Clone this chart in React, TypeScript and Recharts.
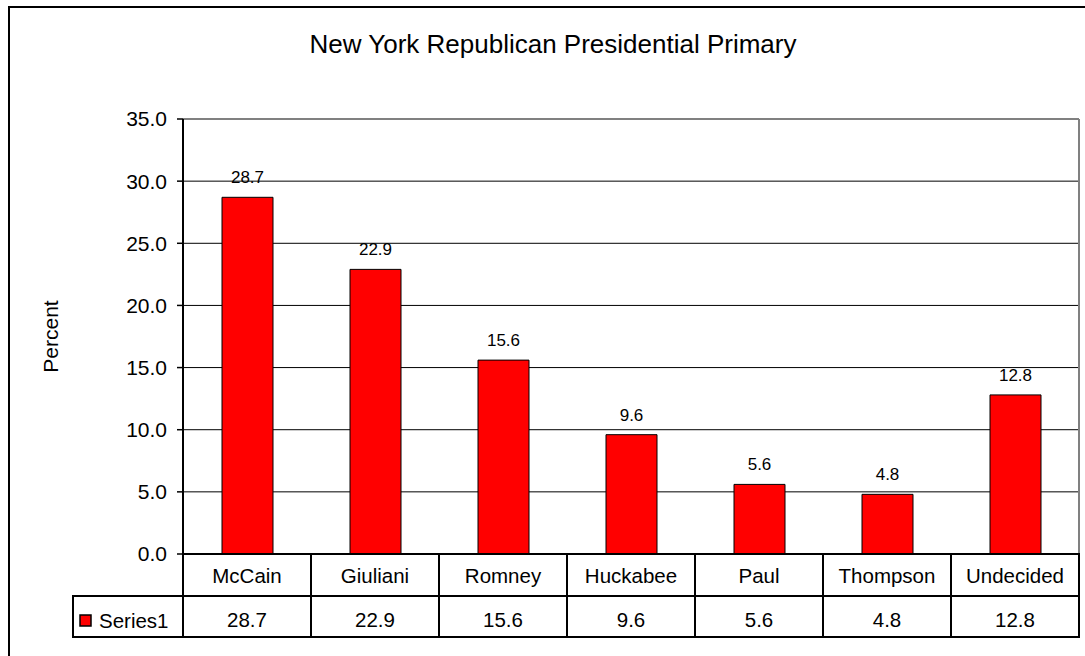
import React from "react"
import { BarChart, Bar, XAxis, YAxis, CartesianGrid, LabelList } from "recharts"

const candidates = ["McCain", "Giuliani", "Romney", "Huckabee", "Paul", "Thompson", "Undecided"]
const percents = [28.7, 22.9, 15.6, 9.6, 5.6, 4.8, 12.8]
const yTicks = [0, 5, 10, 15, 20, 25, 30, 35]
const seriesName = "Series1"
const title = "New York Republican Presidential Primary"
const yLabel = "Percent"

const data = candidates.map((name, i) => ({ name, value: percents[i] }))

const W = 1085
const H = 656
const MARGIN = { top: 119, right: 6, bottom: 19, left: 0 }
const Y_AXIS_W = 183
const X_AXIS_H = 83
const BAND = (W - MARGIN.left - MARGIN.right - Y_AXIS_W) / candidates.length
const ROW = 42
const LEGEND_LEFT = 73
const FONT = "Arial, 'Liberation Sans', Helvetica, sans-serif"

const cell = { stroke: "#000", strokeWidth: 2, strokeLinecap: "square" as const }

// the data table under the plot is drawn from the x axis ticks
function TableTick(props: any) {
  const { x, y, payload } = props
  const half = BAND / 2
  const left = x - half
  const right = x + half
  const idx = candidates.indexOf(payload.value)
  const value = percents[idx]
  return (
    <g>
      <line x1={right} y1={y} x2={right} y2={y + X_AXIS_H} {...cell} />
      <line x1={left} y1={y + ROW} x2={right} y2={y + ROW} {...cell} />
      <line x1={left} y1={y + X_AXIS_H} x2={right} y2={y + X_AXIS_H} {...cell} />
      <text x={x} y={y + 29} textAnchor="middle" fontSize={20.5} fill="#000" fontFamily={FONT}>
        {payload.value}
      </text>
      <text x={x} y={y + 73} textAnchor="middle" fontSize={20.5} fill="#000" fontFamily={FONT}>
        {value.toFixed(1)}
      </text>
      {idx === 0 && (
        <g>
          <line x1={left} y1={y} x2={left} y2={y + X_AXIS_H} {...cell} />
          <line x1={LEGEND_LEFT} y1={y + ROW} x2={left} y2={y + ROW} {...cell} />
          <line x1={LEGEND_LEFT} y1={y + X_AXIS_H} x2={left} y2={y + X_AXIS_H} {...cell} />
          <line x1={LEGEND_LEFT} y1={y + ROW} x2={LEGEND_LEFT} y2={y + X_AXIS_H} {...cell} />
          <rect x={LEGEND_LEFT + 7} y={y + 61} width={11} height={11} fill="#FF0000" stroke="#000" strokeWidth={1.5} />
          <text x={LEGEND_LEFT + 26} y={y + 74} fontSize={20.5} fill="#000" fontFamily={FONT}>
            {seriesName}
          </text>
        </g>
      )}
    </g>
  )
}

function AxisTitle(props: any) {
  const vb = props.viewBox || { x: 0, y: MARGIN.top, width: Y_AXIS_W, height: 435 }
  const cx = vb.x + 50
  const cy = vb.y + vb.height / 2
  return (
    <text
      x={cx}
      y={cy}
      transform={`rotate(-90 ${cx} ${cy})`}
      textAnchor="middle"
      dominantBaseline="central"
      fontSize={21}
      fill="#000"
      fontFamily={FONT}
    >
      {yLabel}
    </text>
  )
}

export default function App() {
  return (
    <div style={{ position: "absolute", left: 0, top: 0, width: W, height: H, background: "#fff", fontFamily: FONT }}>
      <div
        style={{
          position: "absolute",
          left: 8,
          top: 6,
          width: W - 8,
          height: H - 6,
          borderLeft: "2px solid #000",
          borderTop: "2px solid #000",
          boxSizing: "border-box",
        }}
      />
      <div
        style={{
          position: "absolute",
          left: 0,
          top: 32,
          width: 1106,
          textAlign: "center",
          fontSize: 26,
          lineHeight: "25px",
          color: "#000",
          whiteSpace: "nowrap",
        }}
      >
        {title}
      </div>
      <div style={{ position: "absolute", left: 0, top: 0 }}>
        <BarChart width={W} height={H} data={data} margin={MARGIN} style={{ fontFamily: FONT }}>
          <CartesianGrid vertical={false} stroke="#000" strokeWidth={1} />
          <CartesianGrid
            stroke="#808080"
            strokeWidth={2}
            horizontalCoordinatesGenerator={({ offset }: any) => [offset.top]}
            verticalCoordinatesGenerator={({ offset }: any) => [offset.left + offset.width]}
          />
          <XAxis
            dataKey="name"
            height={X_AXIS_H}
            interval={0}
            tickLine={false}
            tickSize={0}
            tickMargin={0}
            axisLine={{ stroke: "#000", strokeWidth: 2 }}
            tick={<TableTick />}
          />
          <YAxis
            width={Y_AXIS_W}
            domain={[0, 35]}
            ticks={yTicks}
            interval={0}
            tickFormatter={(v: number) => v.toFixed(1)}
            tickSize={6}
            tickMargin={10}
            axisLine={{ stroke: "#000", strokeWidth: 2 }}
            tickLine={{ stroke: "#000", strokeWidth: 1.5 }}
            tick={{ fill: "#000", fontSize: 21, fontFamily: FONT }}
            label={<AxisTitle />}
          />
          <Bar dataKey="value" fill="#FF0000" stroke="#000" strokeWidth={1} barSize={51} isAnimationActive={false}>
            <LabelList
              dataKey="value"
              position="top"
              offset={14}
              fontSize={17}
              fill="#000"
              fontFamily={FONT}
              formatter={(v: any) => Number(v).toFixed(1)}
            />
          </Bar>
        </BarChart>
      </div>
    </div>
  )
}
